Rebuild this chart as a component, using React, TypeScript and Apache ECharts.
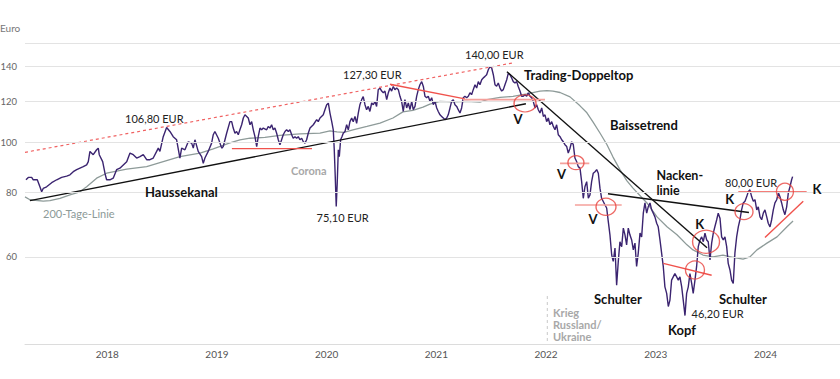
import React, { useEffect, useRef } from "react";
import * as echarts from "echarts";

// ---------- DATA ----------
const yearTicks = [2018, 2019, 2020, 2021, 2022, 2023, 2024];
const priceTicks = [60, 80, 100, 120, 140];
const axisMin = 40.7;
const axisMax = 155.6;
const xMin = 2017.356;
const xMax = 2024.785;

const priceDates = [
  2017.365,2017.386,2017.417,2017.431,2017.468,2017.492,2017.508,2017.522,2017.553,2017.599,
  2017.645,2017.690,2017.736,2017.766,2017.796,2017.827,2017.857,2017.887,2017.918,2017.933,
  2017.948,2017.978,2018.009,2018.024,2018.033,2018.064,2018.088,2018.100,2018.130,2018.160,
  2018.191,2018.221,2018.252,2018.283,2018.313,2018.343,2018.374,2018.404,2018.434,2018.465,
  2018.495,2018.525,2018.556,2018.571,2018.586,2018.616,2018.647,2018.677,2018.707,2018.738,
  2018.768,2018.784,2018.814,2018.844,2018.875,2018.890,2018.905,2018.935,2018.966,2018.981,
  2018.996,2019.026,2019.057,2019.072,2019.087,2019.118,2019.149,2019.163,2019.194,2019.224,
  2019.240,2019.254,2019.270,2019.285,2019.300,2019.315,2019.331,2019.346,2019.361,2019.377,
  2019.391,2019.407,2019.422,2019.437,2019.452,2019.468,2019.482,2019.498,2019.513,2019.528,
  2019.559,2019.573,2019.589,2019.604,2019.619,2019.634,2019.650,2019.665,2019.680,2019.695,
  2019.710,2019.726,2019.741,2019.756,2019.771,2019.787,2019.801,2019.817,2019.832,2019.847,
  2019.862,2019.878,2019.893,2019.908,2019.923,2019.938,2019.954,2019.984,2020.015,2020.029,
  2020.045,2020.075,2020.090,2020.106,2020.121,2020.136,2020.152,2020.166,2020.175,2020.184,
  2020.193,2020.202,2020.212,2020.221,2020.233,2020.245,2020.257,2020.273,2020.288,2020.303,
  2020.318,2020.334,2020.348,2020.364,2020.379,2020.394,2020.409,2020.425,2020.439,2020.455,
  2020.470,2020.485,2020.500,2020.516,2020.531,2020.546,2020.561,2020.576,2020.592,2020.607,
  2020.622,2020.637,2020.653,2020.668,2020.683,2020.698,2020.713,2020.728,2020.744,2020.759,
  2020.774,2020.789,2020.804,2020.819,2020.835,2020.850,2020.865,2020.881,2020.895,2020.911,
  2020.926,2020.941,2020.956,2020.972,2020.987,2021.002,2021.017,2021.032,2021.047,2021.063,
  2021.078,2021.093,2021.109,2021.123,2021.139,2021.154,2021.169,2021.184,2021.200,2021.214,
  2021.230,2021.245,2021.260,2021.275,2021.291,2021.305,2021.321,2021.336,2021.351,2021.366,
  2021.382,2021.397,2021.412,2021.427,2021.442,2021.458,2021.473,2021.488,2021.503,2021.519,
  2021.533,2021.549,2021.564,2021.579,2021.594,2021.610,2021.625,2021.640,2021.655,2021.670,
  2021.686,2021.701,2021.716,2021.731,2021.747,2021.761,2021.777,2021.792,2021.807,2021.822,
  2021.838,2021.852,2021.868,2021.883,2021.898,2021.913,2021.929,2021.944,2021.959,2021.974,
  2021.989,2022.005,2022.020,2022.035,2022.050,2022.066,2022.081,2022.096,2022.111,2022.126,
  2022.141,2022.157,2022.172,2022.187,2022.202,2022.217,2022.233,2022.248,2022.263,2022.278,
  2022.294,2022.308,2022.324,2022.339,2022.354,2022.369,2022.385,2022.399,2022.415,2022.430,
  2022.445,2022.460,2022.476,2022.491,2022.506,2022.521,2022.536,2022.552,2022.567,2022.582,
  2022.597,2022.612,2022.627,2022.643,2022.658,2022.673,2022.688,2022.704,2022.718,2022.734,
  2022.749,2022.764,2022.779,2022.795,2022.810,2022.825,2022.840,2022.855,2022.870,2022.886,
  2022.901,2022.916,2022.931,2022.946,2022.962,2022.977,2022.992,2023.007,2023.023,2023.037,
  2023.053,2023.068,2023.083,2023.098,2023.114,2023.128,2023.144,2023.159,2023.174,2023.189,
  2023.205,2023.220,2023.235,2023.250,2023.265,2023.280,2023.296,2023.311,2023.326,2023.342,
  2023.356,2023.372,2023.387,2023.402,2023.417,2023.433,2023.447,2023.463,2023.478,2023.493,
  2023.509,2023.524,2023.539,2023.554,2023.570,2023.584,2023.600,2023.615,2023.630,2023.645,
  2023.661,2023.675,2023.691,2023.706,2023.721,2023.736,2023.752,2023.766,2023.782,2023.797,
  2023.812,2023.827,2023.843,2023.858,2023.873,2023.888,2023.903,2023.919,2023.934,2023.949,
  2023.964,2023.980,2023.995,2024.010,2024.026,2024.040,2024.056,2024.071,2024.086,2024.101,
  2024.117,2024.131,2024.147,2024.162,2024.177,2024.192,2024.208,2024.223,2024.238,2024.253,
  2024.268,2024.283,2024.299,2024.314,2024.329,2024.344,2024.353,
];

const priceValues = [
  84.6,85.5,85.5,84.6,84.6,82.0,80.2,81.4,82.0,83.5,
  84.6,85.5,86.0,86.5,87.7,88.5,89.1,89.7,90.4,91.7,
  96.0,94.6,96.7,97.4,94.6,91.7,86.5,84.6,84.6,85.2,
  88.5,89.1,90.4,91.7,95.3,94.6,93.2,93.8,94.6,92.5,
  92.5,93.2,96.0,97.4,96.0,102.5,106.8,104.9,102.5,101.1,
  93.2,97.4,96.7,100.2,99.6,97.4,101.1,96.0,93.8,91.0,
  93.2,96.0,99.6,103.4,104.9,101.8,97.4,98.1,104.1,109.6,
  109.6,106.5,104.1,104.9,103.4,105.7,108.1,111.4,113.0,112.2,
  111.4,108.1,109.6,105.7,102.5,98.1,102.5,106.5,105.7,106.5,
  105.7,107.3,106.5,108.1,105.7,106.5,104.1,101.1,98.9,101.1,
  103.4,104.9,105.7,104.9,105.7,103.4,101.8,102.5,101.8,102.5,
  101.1,101.8,100.2,99.6,101.1,104.1,106.5,108.1,110.6,109.6,
  111.4,113.0,115.6,118.2,119.0,113.9,109.6,105.7,96.7,85.8,
  75.1,83.3,96.7,93.8,101.1,102.5,104.1,104.9,108.1,105.7,
  109.6,111.4,109.6,112.2,108.8,113.9,118.2,120.9,122.5,118.2,
  115.6,117.3,114.7,119.1,118.2,119.9,117.3,126.4,127.3,125.6,
  124.7,125.6,120.9,124.7,127.3,125.6,128.2,126.4,127.3,126.4,
  122.7,120.0,114.7,120.9,116.5,119.1,115.6,120.0,115.6,117.3,
  122.7,126.4,129.2,131.0,128.2,122.7,121.9,122.7,120.0,121.9,
  118.2,120.0,116.5,114.7,113.0,112.2,111.4,110.6,111.4,113.0,
  116.5,120.0,120.9,118.2,117.3,115.6,113.9,116.5,121.9,122.7,
  121.9,122.7,124.7,123.6,126.4,129.2,127.3,131.0,129.2,132.1,
  133.1,134.1,135.1,138.1,140.0,139.2,135.1,129.2,128.3,130.2,
  127.3,125.6,126.4,129.2,132.1,135.9,135.1,133.1,131.0,130.2,
  131.0,128.2,125.6,122.7,122.7,123.6,122.7,124.7,122.7,121.9,
  120.0,116.5,118.2,115.6,113.9,116.5,112.2,113.0,109.6,111.4,
  108.1,109.6,107.3,105.7,108.1,103.4,102.5,101.1,100.2,98.9,
  98.1,95.3,97.4,100.2,98.9,93.2,91.7,89.7,89.1,83.9,
  77.9,82.0,83.9,77.9,79.1,83.9,87.1,87.7,88.5,87.1,
  81.5,77.9,76.8,75.6,74.6,70.2,66.2,60.5,58.8,62.4,
  52.9,58.8,64.2,62.8,68.2,66.2,63.3,68.2,66.2,64.7,
  61.9,63.8,57.5,61.0,66.7,65.6,72.9,76.3,72.9,75.0,
  76.3,74.0,72.9,71.7,69.7,68.6,64.7,61.0,57.5,52.5,
  51.0,48.1,49.5,54.1,54.9,55.7,54.9,54.1,54.9,52.5,
  49.5,46.2,51.0,52.5,55.7,53.3,51.0,54.1,57.5,62.8,
  64.7,65.6,64.2,66.7,64.7,64.2,59.2,63.8,66.7,68.7,
  70.8,72.9,71.3,65.6,64.7,65.6,62.8,58.3,56.6,54.1,
  53.3,61.0,65.6,68.6,70.8,74.0,76.3,76.9,78.4,80.2,
  80.9,78.4,76.9,77.4,74.0,75.0,71.7,70.8,72.9,74.0,
  71.7,69.7,68.6,70.8,74.0,76.3,77.4,79.8,78.4,76.3,
  74.0,72.4,75.0,79.8,82.0,84.6,85.8,
];

const ma200Dates = [
  2017.356,2017.401,2017.522,2017.583,2017.675,2017.766,2017.857,2017.918,2018.009,2018.100,
  2018.283,2018.465,2018.616,2018.768,2018.951,2019.072,2019.224,2019.315,2019.407,2019.543,
  2019.680,2019.862,2020.045,2020.136,2020.200,2020.263,2020.345,2020.473,2020.592,2020.710,
  2020.801,2020.892,2020.984,2021.047,2021.139,2021.257,2021.385,2021.503,2021.567,2021.686,
  2021.804,2021.932,2022.050,2022.114,2022.169,2022.233,2022.324,2022.415,2022.478,2022.533,
  2022.597,2022.661,2022.716,2022.779,2022.843,2022.898,2023.025,2023.117,2023.208,2023.299,
  2023.390,2023.445,2023.536,2023.627,2023.718,2023.809,2023.901,2023.964,2024.028,2024.119,
  2024.211,2024.302,2024.357,
];
const ma200Values = [
  78.4,77.4,76.9,77.1,77.9,79.1,80.2,82.0,85.2,87.1,
  88.7,89.7,91.7,93.8,95.3,97.1,99.7,101.1,101.8,102.2,
  103.1,103.8,104.1,105.2,104.7,104.5,105.7,107.3,108.9,111.4,
  114.5,115.2,116.9,118.5,120.0,119.7,120.0,119.6,120.9,122.1,
  122.7,124.0,125.6,125.9,125.6,124.8,122.4,117.6,114.0,109.5,
  104.2,98.9,93.6,88.5,84.2,81.5,76.3,71.7,68.6,66.2,
  63.3,61.9,60.5,60.0,60.5,59.9,59.4,60.0,61.9,63.8,
  65.6,68.6,70.4,
];

// trend lines: [date, price] pairs
const haussekanal = [[2017.401, 77.1], [2021.922, 118.7]];
const upperChannel = [[2017.356, 95.6], [2021.813, 142.5]];
const baissetrend = [[2021.749, 136.9], [2023.573, 62.5]];
const nackenlinie = [[2022.670, 79.5], [2023.955, 73.1]];
const redLines = [
  [[2019.242, 97.2], [2019.972, 97.2]],
  [[2020.683, 129.5], [2021.366, 121.3]],
  [[2023.174, 58.3], [2023.615, 55.3]],
  [[2023.858, 80.1], [2024.481, 80.1]],
  [[2024.101, 65.4], [2024.450, 76.9]],
];
const pinkLines = [
  [[2021.348, 120.9], [2022.096, 120.9]],
  [[2022.233, 91.0], [2022.500, 91.0]],
  [[2022.369, 75.6], [2022.795, 75.6]],
];
const circleCenters = [
  [2021.914, 118.9],
  [2022.378, 91.3],
  [2022.652, 75.0],
  [2023.463, 56.6],
  [2023.564, 64.2],
  [2023.910, 73.4],
  [2024.283, 80.2],
];
const kriegLine = [[2022.117, 50.4], [2022.117, axisMin]];

// ---------- STYLE ----------
const circleSizes = [[22, 17], [16, 14], [20, 17], [19, 18], [27, 23], [18, 16], [17, 17]];
const FONT = "Lato, 'Noto Sans', sans-serif";

type Ann = { text: string; x: number; y: number; kind: string; align?: string };
const annotations: Ann[] = [
  { text: "Euro", x: 0, y: 28, kind: "axis" },
  { text: "106,80 EUR", x: 125, y: 118, kind: "value" },
  { text: "127,30 EUR", x: 343, y: 74.5, kind: "value" },
  { text: "140,00 EUR", x: 465, y: 54, kind: "value" },
  { text: "75,10 EUR", x: 316.5, y: 217, kind: "value" },
  { text: "46,20 EUR", x: 691.5, y: 313, kind: "value" },
  { text: "80,00 EUR", x: 725, y: 182, kind: "value" },
  { text: "Trading-Doppeltop", x: 524, y: 75, kind: "bold" },
  { text: "Baissetrend", x: 610, y: 124.5, kind: "bold" },
  { text: "Haussekanal", x: 145, y: 192, kind: "bold" },
  { text: "Nacken-\nlinie", x: 656.5, y: 183, kind: "bold2" },
  { text: "Schulter", x: 594, y: 298.5, kind: "bold" },
  { text: "Schulter", x: 719, y: 298.5, kind: "bold" },
  { text: "Kopf", x: 668, y: 330, kind: "bold" },
  { text: "V", x: 518, y: 118.5, kind: "bold", align: "center" },
  { text: "V", x: 561.5, y: 173.5, kind: "bold", align: "center" },
  { text: "V", x: 593, y: 218.5, kind: "bold", align: "center" },
  { text: "K", x: 699.7, y: 224, kind: "bold", align: "center" },
  { text: "K", x: 729.7, y: 199, kind: "bold", align: "center" },
  { text: "K", x: 817, y: 189, kind: "bold", align: "center" },
  { text: "200-Tage-Linie", x: 43, y: 213, kind: "ma" },
  { text: "Corona", x: 291, y: 170, kind: "gray" },
  { text: "Krieg\nRussland/\nUkraine", x: 553, y: 324.5, kind: "gray3" },
];

const annStyle: Record<string, any> = {
  axis: { font: `10px ${FONT}`, fill: "#777777" },
  value: { font: `11px ${FONT}`, fill: "#222222" },
  bold: { font: `bold 13px ${FONT}`, fill: "#111111" },
  bold2: { font: `bold 12.5px ${FONT}`, fill: "#111111", lineHeight: 15 },
  ma: { font: `11px ${FONT}`, fill: "#8c9a98" },
  gray: { font: `bold 11px ${FONT}`, fill: "#a8a8a8" },
  gray3: { font: `bold 11px ${FONT}`, fill: "#a8a8a8", lineHeight: 11.7 },
};

const zip = (a: number[], b: number[]) => a.map((d, i) => [d, b[i]]);

function segSeries(data: number[][], color: string, width: number, type: any = "solid", z = 4) {
  return {
    type: "line",
    data,
    symbol: "none",
    silent: true,
    z,
    lineStyle: { color, width, type },
  };
}

export default function App() {
  const ref = useRef<HTMLDivElement>(null);

  useEffect(() => {
    if (!ref.current) return;
    const chart = echarts.init(ref.current, null, { renderer: "svg" });

    const option: any = {
      animation: false,
      backgroundColor: "#ffffff",
      grid: { left: 25, right: 0, top: 43, bottom: 35, containLabel: false },
      xAxis: {
        type: "value",
        min: xMin,
        max: xMax,
        splitLine: { show: false },
        axisTick: { show: false },
        axisLine: { onZero: false, lineStyle: { color: "#dcdcdc", width: 1 } },
        axisLabel: {
          customValues: yearTicks,
          formatter: (v: number) => String(Math.round(v)),
          align: "left",
          margin: 5,
          color: "#555555",
          fontSize: 10,
          fontFamily: FONT,
        },
      },
      yAxis: {
        type: "log",
        logBase: 10,
        min: axisMin,
        max: axisMax,
        axisLabel: { show: false },
        axisLine: { show: false },
        axisTick: { show: false },
        splitLine: { show: false },
      },
      graphic: annotations.map((a) => ({
        type: "text",
        x: a.x,
        y: a.y,
        silent: true,
        z: 100,
        style: {
          text: a.text,
          ...annStyle[a.kind],
          align: a.align || "left",
          verticalAlign: "middle",
        },
      })),
      series: [
        {
          type: "line",
          name: "200-Tage-Linie",
          data: zip(ma200Dates, ma200Values),
          symbol: "none",
          silent: true,
          z: 2,
          lineStyle: { color: "#8e9b99", width: 1.3 },
          markLine: {
            silent: true,
            symbol: ["none", "none"],
            lineStyle: { color: "#e3e3e3", width: 1, type: "solid" },
            label: {
              position: "start",
              distance: 8,
              color: "#666666",
              fontSize: 9.5,
              fontFamily: FONT,
              formatter: (p: any) => String(p.value),
            },
            data: [
              ...priceTicks.map((v) => ({ yAxis: v })),
              { yAxis: axisMax, label: { show: false } },
            ],
          },
        },
        {
          type: "line",
          name: "Kurs",
          data: zip(priceDates, priceValues),
          symbol: "none",
          silent: true,
          z: 3,
          lineStyle: { color: "#3b2470", width: 1.4 },
        },
        segSeries(kriegLine, "#c8c8c8", 1, [3, 3], 2),
        segSeries(upperChannel, "#f06262", 1.2, [3, 3]),
        segSeries(haussekanal, "#111111", 1.4),
        segSeries(baissetrend, "#111111", 1.4),
        segSeries(nackenlinie, "#111111", 1.4),
        ...redLines.map((l) => segSeries(l, "#f0524c", 1.4)),
        ...pinkLines.map((l) => segSeries(l, "#f4a09b", 1.6)),
        {
          type: "scatter",
          data: circleCenters,
          silent: true,
          z: 6,
          symbol: "circle",
          symbolSize: (_v: any, p: any) => circleSizes[p.dataIndex],
          itemStyle: { color: "rgba(255,255,255,0)", borderColor: "#e8443e", borderWidth: 1.3 },
        },
      ],
    };

    chart.setOption(option);
    return () => chart.dispose();
  }, []);

  return (
    <div
      ref={ref}
      style={{ position: "fixed", left: 0, top: 0, width: 840, height: 379, background: "#fff" }}
    />
  );
}
